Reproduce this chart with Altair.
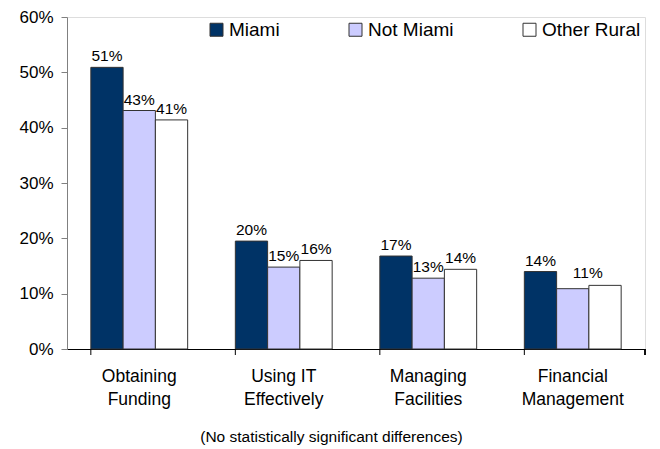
import altair as alt
import pandas as pd

categories = ["Obtaining Funding", "Using IT Effectively", "Managing Facilities", "Financial Management"]
category_lines = [["Obtaining", "Funding"], ["Using IT", "Effectively"], ["Managing", "Facilities"], ["Financial", "Management"]]
groups = ["Miami", "Not Miami", "Other Rural"]
miami = [50.9, 19.5, 16.8, 14.0]
not_miami = [43.1, 14.8, 12.8, 10.9]
other_rural = [41.4, 16.0, 14.4, 11.5]
miami_labels = ["51%", "20%", "17%", "14%"]
not_miami_labels = ["43%", "15%", "13%", "11%"]
other_rural_labels = ["41%", "16%", "14%", ""]
colors = ["#003366", "#CCCCFF", "#FFFFFF"]
y_ticks = [0, 10, 20, 30, 40, 50, 60]
footnote = "(No statistically significant differences)"

rows = []
for g, vals, labs in zip(groups, [miami, not_miami, other_rural],
                         [miami_labels, not_miami_labels, other_rural_labels]):
    for c, v, l in zip(categories, vals, labs):
        rows.append({"Category": c, "Group": g, "Value": v, "Label": l,
                     "Shift": (c == "Financial Management" and g == "Not Miami")})
df = pd.DataFrame(rows)

FONT = "Liberation Sans"
W, H = 578, 332

label_expr = " : ".join(
    f"datum.label == '{c}' ? {lines!r}" for c, lines in zip(categories, category_lines)
) + " : datum.label"

x_enc = alt.X("Category:N", sort=categories, title=None,
              scale=alt.Scale(paddingInner=0.33, paddingOuter=0.165),
              axis=alt.Axis(labelAngle=0, ticks=False, tickSize=0, labelFont=FONT,
                            labelFontSize=17.5, labelColor="black", labelPadding=18,
                            labelLineHeight=23, labelExpr=label_expr,
                            domainColor="black", domainWidth=1, labelLimit=300))
xo_enc = alt.XOffset("Group:N", sort=groups, scale=alt.Scale(paddingInner=0, paddingOuter=0))
y_enc = alt.Y("Value:Q", title=None,
              scale=alt.Scale(domain=[0, 60], nice=False),
              axis=alt.Axis(values=y_ticks, labelExpr="datum.value + '%'", grid=False,
                            labelFont=FONT, labelFontSize=17, labelColor="black",
                            tickSize=6, labelPadding=8, tickColor="#808080",
                            domainColor="#808080"))

bars = alt.Chart(df).mark_bar(stroke="#333333", strokeWidth=1).encode(
    x=x_enc, xOffset=xo_enc, y=y_enc,
    color=alt.Color("Group:N", sort=groups,
                    scale=alt.Scale(domain=groups, range=colors),
                    legend=alt.Legend(orient="none", legendX=140, legendY=3,
                                      direction="horizontal", title=None,
                                      symbolType="square", symbolSize=169,
                                      symbolStrokeColor="#333333", symbolStrokeWidth=1,
                                      labelFont=FONT, labelFontSize=19, labelColor="black",
                                      labelOffset=3, columnPadding=66, padding=0)),
)

labels = alt.Chart(df).transform_filter("!datum.Shift").mark_text(
    baseline="bottom", dy=-3, font=FONT, fontSize=15.5, color="black"
).encode(x=alt.X("Category:N", sort=categories), xOffset=alt.XOffset("Group:N", sort=groups),
         y="Value:Q", text="Label:N")

labels_shift = alt.Chart(df).transform_filter("datum.Shift").mark_text(
    baseline="bottom", dy=-8, dx=15, font=FONT, fontSize=15.5, color="black"
).encode(x=alt.X("Category:N", sort=categories), xOffset=alt.XOffset("Group:N", sort=groups),
         y="Value:Q", text="Label:N")

tick_df = pd.DataFrame({"Category": categories})
xticks = alt.Chart(tick_df).mark_rule(color="black", strokeWidth=1).encode(
    x=alt.X("Category:N", sort=categories, bandPosition=0),
    y=alt.value(H), y2=alt.value(H + 6))
xtick_end = alt.Chart(tick_df).mark_rule(color="black", strokeWidth=1).encode(
    x=alt.value(W), y=alt.value(H), y2=alt.value(H + 6))

note = alt.Chart(pd.DataFrame({"t": [footnote]})).mark_text(
    font=FONT, fontSize=15.5, color="black", baseline="middle", align="center"
).encode(x=alt.value(264.5), y=alt.value(H + 88), text="t:N")

chart = alt.layer(bars, labels, labels_shift, xticks, xtick_end, note).properties(
    width=W, height=H,
    autosize=alt.AutoSizeParams(type="none"),
    padding={"left": 59, "top": 9, "right": 7, "bottom": 97},
).configure_view(stroke=None).configure(background="white")

chart.save("out.html", embed_options={"renderer": "svg", "actions": False})
